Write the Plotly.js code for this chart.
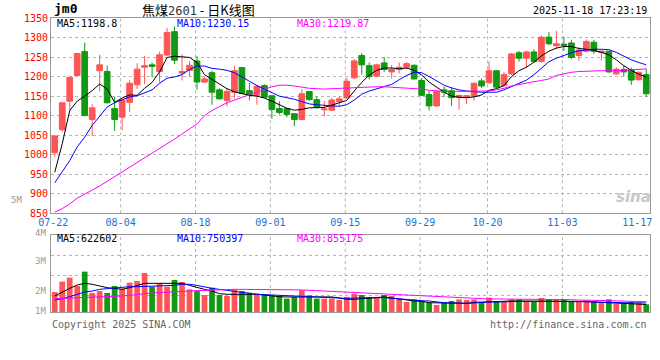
<!DOCTYPE html>
<html><head><meta charset="utf-8">
<script src="https://cdn.plot.ly/plotly-3.0.1.min.js"></script>
<style>html,body{margin:0;padding:0;background:#fff}#chart{width:660px;height:360px}</style>
</head><body><div id="chart"></div>
<script>
// ---- data ----
const dates = ['07-22','07-23','07-24','07-25','07-28','07-29','07-30','07-31','08-01','08-04',
 '08-05','08-06','08-07','08-08','08-11','08-12','08-13','08-14','08-15','08-18',
 '08-19','08-20','08-21','08-22','08-25','08-26','08-27','08-28','08-29','09-01',
 '09-02','09-03','09-04','09-05','09-08','09-09','09-10','09-11','09-12','09-15',
 '09-16','09-17','09-18','09-19','09-22','09-23','09-24','09-25','09-26','09-29',
 '09-30','10-09','10-10','10-13','10-14','10-15','10-16','10-17','10-20','10-21',
 '10-22','10-23','10-24','10-27','10-28','10-29','10-30','10-31','11-03','11-04',
 '11-05','11-06','11-07','11-10','11-11','11-12','11-13','11-14','11-17','11-18'];
const open = [1005,1064,1137,1203,1264,1090,1215,1213,1118,1096, 1134,1179,1224,1230,1213,1255,1315,1209,1216,1240,
 1186,1210,1166,1139,1160,1223,1164,1152,1177,1151, 1118,1118,1105,1090,1162,1141,1115,1114,1136,1146,
 1197,1254,1228,1201,1235,1212,1218,1224,1229,1190, 1154,1125,1166,1164,1147,1148,1151,1189,1184,1215,
 1177,1207,1261,1247,1263,1239,1301,1279,1283,1286, 1254,1265,1288,1262,1265,1207,1218,1218,1192,1205];
const high = [1049,1134,1199,1260,1287,1129,1256,1228,1149,1141, 1191,1234,1253,1236,1264,1325,1328,1257,1240,1252,
 1200,1215,1170,1170,1227,1225,1184,1179,1180,1151, 1137,1120,1106,1168,1163,1150,1138,1146,1150,1196,
 1245,1260,1236,1233,1250,1230,1236,1238,1231,1196, 1164,1164,1175,1172,1153,1152,1184,1195,1239,1216,
 1212,1260,1266,1266,1270,1305,1314,1317,1302,1294, 1276,1295,1294,1266,1266,1224,1229,1223,1213,1220];
const low = [995,1058,1113,1202,1099,1048,1162,1131,1061,1062, 1109,1168,1181,1198,1185,1253,1232,1190,1200,1166,
 1183,1128,1141,1124,1144,1155,1139,1128,1146,1092, 1103,1096,1073,1088,1138,1118,1098,1112,1124,1143,
 1193,1205,1193,1198,1212,1195,1208,1220,1192,1150, 1113,1122,1148,1125,1115,1130,1138,1171,1182,1170,
 1174,1204,1238,1222,1236,1236,1280,1270,1266,1245, 1241,1262,1258,1241,1210,1204,1201,1179,1190,1148];
const close = [1048,1133,1198,1259,1100,1120,1230,1133,1090,1140, 1183,1219,1228,1226,1256,1313,1242,1213,1229,1186,
 1194,1160,1143,1162,1215,1157,1153,1175,1147,1116, 1108,1103,1090,1156,1141,1122,1117,1140,1143,1188,
 1240,1230,1200,1230,1218,1218,1224,1233,1194,1152, 1125,1162,1160,1146,1152,1151,1183,1176,1215,1173,
 1205,1258,1247,1263,1239,1301,1284,1284,1280,1249, 1268,1290,1265,1265,1212,1219,1212,1191,1211,1156];
const ma5 = [955,1028,1113,1137,1150,1164,1181,1168,1134,1145, 1153,1152,1170,1185,1212,1249,1252,1250,1249,1236,
 1205,1193,1180,1169,1161,1157,1152,1150,1145,1137, 1127,1119,1114,1116,1120,1121,1121,1127,1132,1139,
 1163,1185,1204,1216,1222,1222,1220,1222,1216,1204, 1186,1173,1160,1150,1147,1146,1148,1153,1165,1169,
 1177,1200,1215,1224,1237,1253,1265,1273,1277,1277, 1272,1270,1267,1262,1256,1243,1228,1216,1206,1198.8];
const ma10 = [928,955,985,1020,1045,1075,1100,1122,1133,1140, 1148,1151,1158,1166,1183,1196,1199,1205,1218,1227,
 1227,1221,1219,1216,1210,1200,1188,1177,1168,1158, 1150,1146,1142,1136,1130,1128,1126,1125,1124,1128,
 1140,1155,1163,1169,1175,1180,1192,1203,1211,1210, 1200,1188,1178,1171,1166,1163,1161,1160,1160,1160,
 1166,1175,1183,1191,1205,1222,1238,1247,1255,1261, 1266,1268,1270,1270,1269,1262,1252,1243,1236,1230.15];
const ma30 = [853,862,874,889,899,909,920,932,944,955, 968,979,990,1002,1015,1027,1040,1053,1066,1079,
 1100,1113,1123,1133,1140,1147,1155,1162,1168,1174, 1178,1178,1176,1173,1170,1169,1168,1169,1170,1171,
 1172,1173,1174,1174,1174,1173,1172,1171,1170,1168, 1165,1163,1162,1162,1162,1162,1162,1162,1163,1166,
 1170,1176,1180,1184,1187,1190,1194,1203,1208,1211, 1213,1214,1215,1215,1215,1215,1216,1217,1218,1219.87];
const volume = [1660000,2520000,2850000,2160000,3350000,1580000,1740000,1580000,2160000,1940000,
 2430000,2570000,3240000,2100000,2380000,2100000,2660000,2490000,1880000,1740000,
 1410000,2020000,1410000,1330000,1880000,1740000,1600000,1520000,1470000,1380000,
 1330000,1110000,1250000,1800000,1380000,1110000,1110000,1110000,1000000,1250000,
 1520000,1410000,1250000,1250000,1410000,1330000,1110000,830000,1050000,910000,
 770000,580000,770000,910000,1050000,1000000,1050000,830000,1190000,910000,
 910000,1050000,1050000,910000,830000,1160000,1050000,1050000,1050000,910000,
 860000,970000,860000,770000,1050000,690000,720000,830000,770000,640000];
const volMa5 = [1330000,1660000,1960000,2240000,2380000,2300000,2160000,2020000,1960000,1880000,
 2020000,2210000,2380000,2380000,2380000,2380000,2380000,2380000,2210000,2020000,
 1880000,1740000,1520000,1470000,1470000,1470000,1520000,1470000,1410000,1330000,
 1270000,1250000,1250000,1250000,1250000,1250000,1250000,1250000,1160000,1050000,
 1050000,1110000,1190000,1250000,1250000,1160000,1050000,1000000,910000,880000,
 770000,770000,720000,720000,720000,720000,800000,830000,830000,860000,
 880000,910000,910000,910000,910000,940000,940000,940000,910000,910000,
 880000,860000,830000,830000,800000,750000,720000,690000,660000,622602];
const volMa10 = [1000000,1100000,1270000,1470000,1660000,1740000,1880000,1940000,1990000,2070000,
 2100000,2100000,2130000,2130000,2130000,2160000,2210000,2300000,2300000,2210000,
 2070000,1960000,1880000,1800000,1710000,1600000,1520000,1470000,1440000,1410000,
 1380000,1360000,1330000,1330000,1300000,1270000,1250000,1220000,1190000,1130000,
 1160000,1190000,1190000,1190000,1190000,1130000,1110000,1050000,1000000,940000,
 910000,830000,770000,750000,720000,720000,750000,800000,830000,830000,
 860000,880000,880000,880000,880000,910000,910000,910000,910000,880000,
 860000,860000,830000,830000,810000,790000,770000,760000,755000,750397];
const volMa30 = [1110000,1130000,1160000,1190000,1220000,1250000,1270000,1270000,1300000,1330000,
 1380000,1470000,1520000,1580000,1600000,1630000,1660000,1690000,1740000,1770000,
 1800000,1830000,1850000,1880000,1880000,1880000,1880000,1880000,1880000,1880000,
 1880000,1850000,1830000,1830000,1800000,1770000,1740000,1710000,1660000,1600000,
 1580000,1550000,1550000,1520000,1470000,1440000,1440000,1380000,1380000,1330000,
 1300000,1270000,1250000,1220000,1190000,1170000,1140000,1110000,1080000,1080000,
 1080000,1050000,1050000,1050000,1050000,1020000,1020000,1020000,1020000,1020000,
 990000,990000,970000,960000,940000,920000,900000,880000,870000,855175];
const tickDates = ['07-22','08-04','08-18','09-01','09-15','09-29','10-20','11-03','11-17'];
const priceTicks = [850,900,950,1000,1050,1100,1150,1200,1250,1300,1350];
const volAxisText = ['5M','4M','3M','2M','1M'];

// ---- drawing ----
const UP = '#ff5555', DOWN = '#119911';
const MONO = 'DejaVu Sans Mono, monospace';
const xi = dates.map((d, i) => i);
const tickPos = tickDates.map(d => dates.indexOf(d) - 0.2);
const last = a => a[a.length - 1];

const traces = [
  {type:'candlestick', x:xi, open:open, high:high, low:low, close:close, xaxis:'x', yaxis:'y',
   increasing:{line:{color:UP, width:1}, fillcolor:UP},
   decreasing:{line:{color:DOWN, width:1}, fillcolor:DOWN},
   whiskerwidth:0, hoverinfo:'skip'},
  {type:'scatter', mode:'lines', x:xi, y:ma5, line:{color:'#000000', width:1}, xaxis:'x', yaxis:'y', hoverinfo:'skip'},
  {type:'scatter', mode:'lines', x:xi, y:ma10, line:{color:'#0000ff', width:1}, xaxis:'x', yaxis:'y', hoverinfo:'skip'},
  {type:'scatter', mode:'lines', x:xi, y:ma30, line:{color:'#ff00ff', width:1}, xaxis:'x', yaxis:'y', hoverinfo:'skip'},
  {type:'bar', x:xi, y:volume, xaxis:'x2', yaxis:'y2', hoverinfo:'skip',
   marker:{color: close.map((c, i) => c >= open[i] ? UP : DOWN), line:{width:0}}},
  {type:'scatter', mode:'lines', x:xi, y:volMa5, line:{color:'#000000', width:1}, xaxis:'x2', yaxis:'y2', hoverinfo:'skip'},
  {type:'scatter', mode:'lines', x:xi, y:volMa10, line:{color:'#0000ff', width:1}, xaxis:'x2', yaxis:'y2', hoverinfo:'skip'},
  {type:'scatter', mode:'lines', x:xi, y:volMa30, line:{color:'#ff00ff', width:1}, xaxis:'x2', yaxis:'y2', hoverinfo:'skip'}
];

const BORDER = '#999999', GRID = '#b4b4b4';
const shapes = [];
tickPos.slice(1, -1).forEach(p => {
  ['y domain', 'y2 domain'].forEach(yr => shapes.push({type:'line', xref: yr === 'y domain' ? 'x' : 'x2', yref:yr,
    x0:p, x1:p, y0:0, y1:1, line:{color:GRID, width:1, dash:'dot'}, layer:'below'}));
});

const ann = [];
const txt = (x, y, text, color, size, xa, extra) => ann.push(Object.assign({xref:'paper', yref:'paper', x:x, y:y, text:text,
  showarrow:false, xanchor:xa || 'left', yanchor:'middle', font:{family:MONO, size:size || 10, color:color}}, extra || {}));
txt(0.0017, 1.031, '<b>jm0</b>', '#000', 13);
txt(0.0, 1.0306, '焦煤<span style="font-family:DejaVu Sans Mono;font-size:12px;color:#333">2601</span>\u00a0-\u00a0日K线图', '#000', 13, 'left',
    {xshift:89, font:{family:'Noto Sans CJK SC, sans-serif', size:13, color:'#000'}});
txt(0.998, 1.027, '2025-11-18 17:23:19', '#000', 10, 'right');
txt(0.0067, 0.9796, 'MA5:' + last(ma5), '#000000');
txt(0.207, 0.9796, 'MA10:' + last(ma10), '#0000ff');
txt(0.4073, 0.9796, 'MA30:' + last(ma30), '#ff00ff');
txt(0.0067, 0.2483, 'MA5:' + last(volMa5), '#000000');
txt(0.207, 0.2483, 'MA10:' + last(volMa10), '#0000ff');
txt(0.4073, 0.2483, 'MA30:' + last(volMa30), '#ff00ff');
const volLabelY = [0.381, 0.2687, 0.1745, 0.0724, 0.0034];
const volLabelShift = [-27, -3, -3, -3, -3];
volAxisText.forEach((t, i) => txt(0, volLabelY[i], t, '#999999', 9, 'right', {xshift:volLabelShift[i]}));
txt(-0.002, -0.041, 'Copyright 2025 SINA.COM', '#666666');
txt(0.998, -0.041, 'http://finance.sina.com.cn', '#666666', 10, 'right');
txt(0.972, 0.391, '<i><b>sina</b></i>', '#c8c8c8', 15, 'center', {font:{family:'DejaVu Sans, sans-serif', size:15, color:'#c8c8c8'}});

const layout = {
  width:660, height:360, margin:{l:51, r:10, t:18, b:48},
  paper_bgcolor:'#ffffff', plot_bgcolor:'#ffffff', showlegend:false,
  boxgap:0.24, boxgroupgap:0, bargap:0.24,
  xaxis:{domain:[0,1], anchor:'y', range:[-0.5, 79.5], rangeslider:{visible:false},
    tickmode:'array', tickvals:tickPos, ticktext:tickDates, ticks:'', showgrid:false, zeroline:false,
    showline:true, linecolor:BORDER, linewidth:1, mirror:true,
    tickfont:{family:MONO, size:10, color:'#1a73c9'}},
  xaxis2:{domain:[0,1], anchor:'y2', matches:'x', range:[-0.5, 79.5], showticklabels:false, ticks:'',
    showgrid:false, zeroline:false, showline:true, linecolor:BORDER, linewidth:1, mirror:true},
  yaxis:{domain:[0.3357, 1], range:[850, 1350], tickmode:'array', tickvals:priceTicks, ticks:'',
    showgrid:true, gridcolor:GRID, griddash:'dot', gridwidth:1, zeroline:false,
    showline:true, linecolor:BORDER, linewidth:1, mirror:true,
    tickfont:{family:MONO, size:10, color:'#ff0000'}},
  yaxis2:{domain:[0, 0.2619], range:[0, 6391000], tickmode:'array', tickvals:[1353000, 3013000, 4673000],
    showticklabels:false, ticks:'', showgrid:true, gridcolor:GRID, griddash:'dot', gridwidth:1, zeroline:false,
    showline:true, linecolor:BORDER, linewidth:1, mirror:true},
  shapes:shapes, annotations:ann
};
Plotly.newPlot('chart', traces, layout, {staticPlot:true, displayModeBar:false});
</script></body></html>
